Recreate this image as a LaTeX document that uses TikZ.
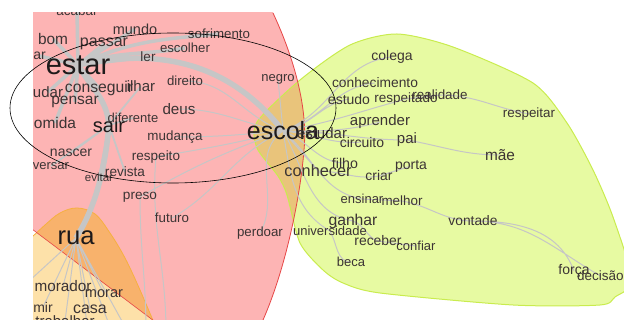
\documentclass[tikz,border=0pt]{standalone}
\usepackage{fontspec}
\setmainfont{Liberation Sans}
\definecolor{zonepink}{HTML}{FDB4B4}
\definecolor{zonered}{HTML}{E64646}
\definecolor{zonebeige}{HTML}{FDE1A9}
\definecolor{zoneorange}{HTML}{F8B26C}
\definecolor{zoneamber}{HTML}{F6B040}
\definecolor{zonegreen}{HTML}{E7FAA2}
\definecolor{zonelime}{HTML}{C9EC4E}
\definecolor{zonetan}{HTML}{E9C47B}
\definecolor{linkgray}{HTML}{C6C6C6}
\definecolor{wordgray}{HTML}{3C3434}
\definecolor{hubblack}{HTML}{1E1A1A}
\pgfdeclarelayer{zones}
\pgfdeclarelayer{links}
\pgfsetlayers{zones,links,main}
\tikzset{
	word/.style = {
		inner sep=0pt,
		text=wordgray,
		font=\fontsize{#1}{#1}\selectfont
	},
	word/.default = 13.5,
	hubword/.style = {
		word=#1,
		text=hubblack
	},
	link/.style = {
		draw=linkgray,
		line width=1pt
	},
	branch/.style = {
		link,
		line width=3.5pt
	},
	trunk/.style = {
		link,
		line width=5.5pt
	},
	ring/.style = {
		draw=black,
		line width=0.6pt
	}
}
% cluster outlines
\newcommand{\pinkzone}{(20,0) -- (273,0) -- (273,13) .. controls (295,60) and (308,110) .. (304,150) .. controls (300,200) and (285,270) .. (263,320) -- (260,330) -- (166,330) -- (20,220) -- cycle}
\newcommand{\beigezone}{plot[smooth, tension=0.6] coordinates {(20,246) (33,236) (45,225) (60,213) (77,208) (95,214) (110,233) (125,258) (140,290) (157,330)} -- (20,330) -- cycle}
\newcommand{\greenzone}{plot[smooth cycle, tension=0.45] coordinates {(257,122) (300,80) (350,45) (397,34) (453,47) (533,83) (567,123) (593,170) (613,217) (632,280) (615,297) (600,305) (513,305) (380,293) (343,283) (323,270) (300,243) (287,195) (278,176) (257,148)}}

\begin{document}
\begin{tikzpicture}[x=1pt, y=-1pt]
\useasboundingbox (0,0) rectangle (624,320);
\begin{scope}
\clip (33,13) rectangle (624,320);
% estar / escola side
\node [word] (acabar) at (77,11) {acabar};
\node [word=14.5] (mundo) at (135,29) {mundo};
\node [word=13.3] (sofrimento) at (219,34) {sofrimento};
\node [word=15.4] (bom) at (53,39) {bom};
\node [word=16] (passar) at (104,44) {passar};
\node [word] (ler) at (148,57) {ler};
\node [word=13.2] (escolher) at (185,48) {escolher};
\node [hubword=29] (estar) at (78,65) {estar};
\node [word=14, anchor=east] (ar) at (46,56) {ar};
\node [word=15] (udar) at (48,92) {udar};
\node [word=15.7] (conseguir) at (99,88) {conseguir};
\node [word=15] (ilhar) at (141,86) {ilhar};
\node [word=15.5] (pensar) at (75,102) {pensar};
\node [word=15.5] (omida) at (55,123) {omida};
\node [hubword=20] (sair) at (109,125) {sair};
\node [word=13] (diferente) at (133,118) {diferente};
\node [word=13.2] (direito) at (185,81) {direito};
\node [word=15.2] (deus) at (179,109) {deus};
\node [word=13.4] (mudanca) at (175,137) {mudança};
\node [word=13] (negro) at (278,79) {negro};
\node [word=14] (nascer) at (71,153) {nascer};
\node [word] (respeito) at (156,157) {respeito};
\node [word=13] (versar) at (51,166) {versar};
\node [word=11.5] (evitar) at (99,177) {evitar};
\node [word=13.6] (revista) at (125,172) {revista};
\node [word=13.6] (preso) at (140,197) {preso};
\node [word=13.3] (futuro) at (172,218) {futuro};
\node [word=13.3] (perdoar) at (260,233) {perdoar};
\node [hubword=25.6] (rua) at (76,238) {rua};
\node [word=15.3] (morador) at (63,286) {morador};
\node [word=14.6] (morar) at (104,294) {morar};
\node [word=14] (mir) at (43,307) {mir};
\node [word=16] (casa) at (90,309) {casa};
\node [word=15] (trabalhar) at (65,321) {trabalhar};
\node [hubword=25] (escola) at (283,131) {escola};
\node [word=15] (estudar) at (322,133) {estudar};
% green side
\node [word=14] (colega) at (392,57) {colega};
\node [word=13.8] (conhecimento) at (375,83) {conhecimento};
\node [word=14] (estudo) at (349,99) {estudo};
\node [word] (respeitado) at (406,99) {respeitado};
\node [word=13.4] (realidade) at (440,95) {realidade};
\node [word=13.4] (respeitar) at (529,114) {respeitar};
\node [word=15] (aprender) at (380,122) {aprender};
\node [word=14] (circuito) at (362,142) {circuito};
\node [word=15] (pai) at (407,140) {pai};
\node [word=15.4] (mae) at (500,155) {mãe};
\node [word=14.2] (filho) at (345,163) {filho};
\node [word=16.3] (conhecer) at (318,171) {conhecer};
\node [word=14] (porta) at (411,166) {porta};
\node [word=13.9] (criar) at (379,176) {criar};
\node [word=13] (ensinar) at (362,199) {ensinar};
\node [word=13.4] (melhor) at (402,201) {melhor};
\node [word=13.8] (vontade) at (473,221) {vontade};
\node [word=15.7] (ganhar) at (353,221) {ganhar};
\node [word=13] (universidade) at (330,231) {universidade};
\node [word=13.9] (receber) at (378,241) {receber};
\node [word=13] (confiar) at (416,246) {confiar};
\node [word=13] (beca) at (351,262) {beca};
\node [word=14] (forca) at (574,271) {força};
\node [word, anchor=west] (decisao) at (577,276) {decisão};
\end{scope}
\coordinate (rdown1) at (88,332);
\coordinate (rdown2) at (112,332);
\coordinate (rdown3) at (128,332);
\coordinate (rleft) at (28,282);
\coordinate (pdown1) at (146,332);
\coordinate (pdown2) at (166,332);

\begin{pgfonlayer}{zones}
\begin{scope}
\clip (33,13) rectangle (624,320);
\fill [zonebeige] \beigezone;
\fill [zonepink] \pinkzone;
\fill [zonegreen] \greenzone;
\begin{scope}
\clip \pinkzone;
\fill [zoneorange] \beigezone;
\fill [zonetan] \greenzone;
\end{scope}
\draw [zoneamber, line width=0.8pt] plot[smooth, tension=0.6] coordinates {(20,246) (33,236) (45,225) (60,213) (77,208) (95,214) (110,233) (125,258) (140,290) (157,330)};
\draw [zonelime, line width=1pt] \greenzone;
\draw [zonered, line width=0.8pt] (273,13) .. controls (295,60) and (308,110) .. (304,150) .. controls (300,200) and (285,270) .. (263,320);
\draw [zonered, line width=0.6pt] (20,220) -- (166,330);
\end{scope}
\end{pgfonlayer}

\begin{pgfonlayer}{links}
\begin{scope}
\clip (33,13) rectangle (624,320);
% main tree
\draw [trunk] (estar.center) to[out=-60, in=95] (sair.center);
\draw [trunk] (sair.center) .. controls (104,180) and (92,212) .. (rua.center);
\draw [trunk] (estar.center) .. controls (170,45) and (235,70) .. (escola.center);
\draw [branch] (estar.center) -- (acabar.center) (estar.center) -- (bom.center)
	(estar.center) -- (passar.center) (estar.center) -- (mundo.center)
	(estar.center) -- (ar.center) (estar.center) -- (udar.center)
	(estar.center) -- (conseguir.center) (estar.center) -- (pensar.center)
	(estar.center) -- (omida.center) (estar.center) -- (ler.center)
	(estar.center) to[out=20, in=190] (escolher.center)
	(estar.center) to[out=25, in=185] (sofrimento.center);
\draw [link, line width=1.8pt] (sair.center) -- (diferente.center) (sair.center) -- (nascer.center)
	(sair.center) -- (versar.center) (sair.center) -- (evitar.center)
	(sair.center) -- (revista.center) (sair.center) -- (ilhar.center);
\draw [link] (escola.center) -- (negro.center)
	(escola.center) to[out=160, in=0] (direito.center)
	(escola.center) to[out=170, in=0] (deus.center)
	(escola.center) to[out=185, in=0] (mudanca.center)
	(escola.center) to[out=195, in=10] (respeito.center)
	(escola.center) to[out=205, in=30] (futuro.center)
	(escola.center) to[out=215, in=60] (perdoar.center)
	(escola.center) -- (estudar.center)
	(respeito.center) to[out=-95, in=90] (pdown2)
	(preso.center) to[out=-90, in=90] (pdown1)
	(escola.center) to[out=200, in=30] (preso.center);
\draw [link] (rua.center) -- (morador.center) (rua.center) -- (morar.center)
	(rua.center) -- (mir.center) (rua.center) -- (casa.center)
	(rua.center) -- (trabalhar.center) (rua.center) -- (rdown1)
	(rua.center) -- (rdown2) (rua.center) -- (rdown3)
	(rua.center) -- (rleft);
% escola to the green words
\draw [link] (escola.center) to[out=20, in=185] (colega.center)
	(escola.center) to[out=15, in=185] (conhecimento.center)
	(escola.center) to[out=10, in=190] (estudo.center)
	(escola.center) to[out=10, in=195] (respeitado.center)
	(respeitado.center) -- (realidade.center)
	(realidade.center) to[out=0, in=170] (respeitar.center)
	(escola.center) to[out=0, in=195] (aprender.center)
	(escola.center) to[out=-5, in=185] (circuito.center)
	(escola.center) to[out=0, in=180] (pai.center)
	(pai.center) to[out=-10, in=180] (mae.center)
	(escola.center) to[out=-20, in=180] (filho.center)
	(escola.center) -- (conhecer.center)
	(conhecer.center) to[out=0, in=190] (criar.center)
	(criar.center) -- (porta.center)
	(escola.center) to[out=-40, in=170] (ensinar.center)
	(ensinar.center) -- (melhor.center)
	(melhor.center) to[out=-10, in=180] (vontade.center)
	(vontade.center) to[out=0, in=110] (forca.center)
	(vontade.center) to[out=0, in=150] (decisao.center)
	(escola.center) to[out=-60, in=170] (ganhar.center)
	(ganhar.center) to[out=-20, in=160] (receber.center)
	(receber.center) -- (confiar.center)
	(escola.center) to[out=-80, in=150] (universidade.center)
	(universidade.center) to[out=-60, in=180] (beca.center);
\end{scope}
\end{pgfonlayer}

\draw [ring] (173,108) ellipse [x radius=163pt, y radius=75pt];
\end{tikzpicture}
\end{document}
